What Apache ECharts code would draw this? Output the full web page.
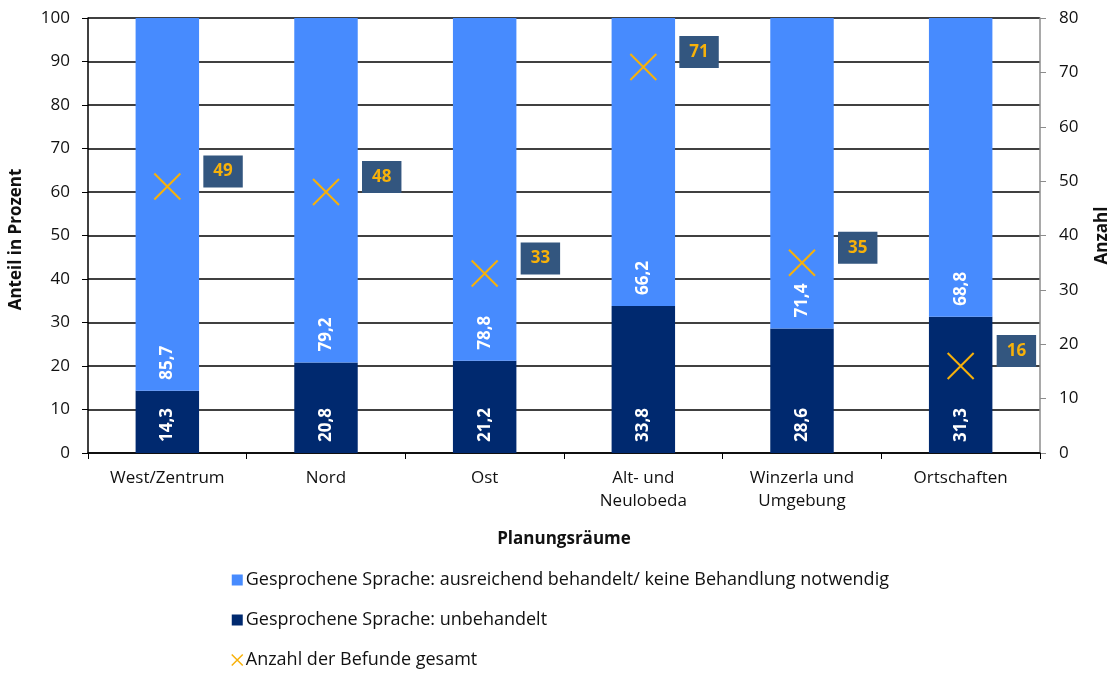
<!DOCTYPE html>
<html><head><meta charset="utf-8">
<script src="https://cdn.jsdelivr.net/npm/echarts@6/dist/echarts.min.js"></script>
<style>html,body{margin:0;padding:0;background:#fff}#c{width:1119px;height:673px}</style>
</head><body><div id="c"></div>
<script>
const categories = ['West/Zentrum', 'Nord', 'Ost', 'Alt- und\nNeulobeda', 'Winzerla und\nUmgebung', 'Ortschaften'];
const unbehandelt = [14.3, 20.8, 21.2, 33.8, 28.6, 31.3];
const ausreichend = [85.7, 79.2, 78.8, 66.2, 71.4, 68.8];
const anzahl = [49, 48, 33, 71, 35, 16];
const leftTicks = [0, 10, 20, 30, 40, 50, 60, 70, 80, 90, 100];
const rightTicks = [0, 10, 20, 30, 40, 50, 60, 70, 80];

const FONT = '"Open Sans", "Noto Sans", sans-serif';
const fmt = p => p.value.toFixed(1).replace('.', ',');
const barLabel = {
  show: true, rotate: 90, position: 'insideBottom', distance: 11,
  align: 'left', verticalAlign: 'middle',
  color: '#fff', fontWeight: 'bold', fontSize: 17, fontFamily: FONT, formatter: fmt
};
const nameStyle = { fontWeight: 'bold', fontSize: 17, color: '#111', fontFamily: FONT };
const chart = echarts.init(document.getElementById('c'));
chart.setOption({
  animation: false,
  textStyle: { fontFamily: FONT },
  grid: { left: 88, right: 79, top: 18, bottom: 220 },
  legend: {
    orient: 'vertical', left: 231, top: 569, itemGap: 18, padding: 0,
    itemWidth: 11, itemHeight: 11,
    textStyle: { fontSize: 18, color: '#111', fontFamily: FONT, lineHeight: 22, padding: [0, 0, 0, -2] },
    data: [
      { name: 'Gesprochene Sprache: ausreichend behandelt/ keine Behandlung notwendig', icon: 'rect' },
      { name: 'Gesprochene Sprache: unbehandelt', icon: 'rect' },
      { name: 'Anzahl der Befunde gesamt', icon: 'path://M0,0L10,10M10,0L0,10', itemStyle: { color: 'rgba(0,0,0,0)', borderColor: '#f7b10a', borderWidth: 1.5, opacity: 1 } }
    ]
  },
  xAxis: {
    type: 'category', data: categories,
    name: 'Planungsräume', nameLocation: 'middle', nameGap: 78,
    nameTextStyle: nameStyle,
    axisLine: { lineStyle: { color: '#000', width: 1.5 } },
    axisTick: { show: true, alignWithLabel: false, length: 6, lineStyle: { color: '#000' } },
    axisLabel: { color: '#111', fontSize: 17, margin: 14, lineHeight: 23, fontFamily: FONT }
  },
  yAxis: [
    {
      type: 'value', min: 0, max: 100, interval: 10,
      name: 'Anteil in Prozent', nameLocation: 'middle', nameGap: 63, nameRotate: 90,
      nameTextStyle: Object.assign({}, nameStyle, { padding: [0, 0, 0, -8] }),
      axisLine: { show: true, lineStyle: { color: '#000', width: 1.5 } },
      axisTick: { show: true, length: 6, lineStyle: { color: '#000' } },
      axisLabel: { color: '#111', fontSize: 17, margin: 18, fontFamily: FONT },
      splitLine: { show: true, lineStyle: { color: '#000', width: 1.5 } }
    },
    {
      type: 'value', min: 0, max: 80, interval: 10, position: 'right',
      name: 'Anzahl', nameLocation: 'middle', nameGap: 54, nameRotate: 90,
      nameTextStyle: nameStyle,
      axisLine: { show: true, lineStyle: { color: '#8c8c8c', width: 1.5 } },
      axisTick: { show: true, length: 6, lineStyle: { color: '#8c8c8c' } },
      axisLabel: { color: '#111', fontSize: 17, margin: 19, fontFamily: FONT },
      splitLine: { show: false }
    }
  ],
  series: [
    {
      name: 'Gesprochene Sprache: unbehandelt', type: 'bar', stack: 's', barWidth: '40%',
      data: unbehandelt, itemStyle: { color: '#00296f' }, label: barLabel, z: 2
    },
    {
      name: 'Gesprochene Sprache: ausreichend behandelt/ keine Behandlung notwendig', type: 'bar', stack: 's', barWidth: '40%',
      data: ausreichend, itemStyle: { color: '#478bfe' }, label: barLabel, z: 2
    },
    {
      name: 'Anzahl der Befunde gesamt', type: 'scatter', yAxisIndex: 1,
      data: anzahl, symbol: 'path://M0,0L10,10M10,0L0,10', symbolSize: 26,
      itemStyle: { color: 'rgba(0,0,0,0)', borderColor: '#f7b10a', borderWidth: 2, opacity: 1 },
      label: {
        show: true, position: 'right', distance: 22, offset: [0, -15],
        backgroundColor: '#33567f', padding: [8, 10, 7, 10],
        color: '#f7b10a', fontWeight: 'bold', fontSize: 17, fontFamily: FONT,
        formatter: p => String(p.value)
      },
      z: 5
    }
  ]
});
</script></body></html>
